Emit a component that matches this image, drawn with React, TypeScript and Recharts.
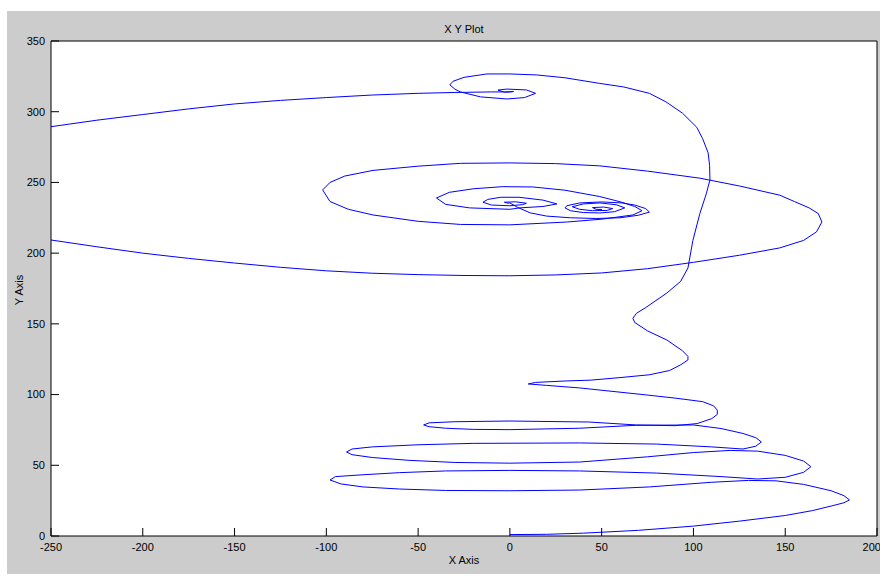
import { LineChart, Line, XAxis, YAxis, CartesianGrid } from "recharts";

const xTicks = [-250, -200, -150, -100, -50, 0, 50, 100, 150, 200];
const yTicks = [0, 50, 100, 150, 200, 250, 300, 350];

// trajectory from the origin, zig-zagging up into the top focus
const risingPath: [number, number][] = [
  [0, 1], [20, 1.2], [40, 2], [70, 4], [100, 7], [125, 10.5], [150, 14.5], [165, 18], [176, 21.5], [182, 23.5], [185, 25.5],
  [182, 28.5], [175, 32], [160, 36.5], [145, 39], [130, 39.3], [110, 38], [76, 34.7], [38, 32.5], [0, 32], [-35, 32.2],
  [-60, 33.2], [-80, 34.7], [-92, 36.8], [-98, 39.6], [-95, 42], [-80, 43.3], [-60, 44.8], [-35, 46], [0, 46.4], [38, 46],
  [80, 44.5], [115, 42], [135, 40.3], [150, 41.5], [160, 45], [164, 49], [160, 53], [150, 57], [135, 60], [120, 60.5],
  [100, 59], [75, 56], [38, 52.3], [0, 51.5], [-30, 52], [-55, 53.5], [-75, 55.5], [-86, 57.5], [-89, 59.4], [-86, 61.5],
  [-75, 63], [-50, 64.5], [-20, 65.5], [38, 65.8], [80, 65], [110, 63], [127, 61.5], [134, 63.5], [137, 66.5], [134, 69.5],
  [127, 72.5], [115, 76], [100, 78.5], [69, 78.3], [38, 76.2], [0, 75.2], [-20, 75.4], [-35, 76.2], [-44, 77.3], [-47, 78.5],
  [-44, 80], [-30, 80.8], [0, 81.3], [43, 80.6], [69, 78.5], [90, 78], [102, 79.5], [110, 83], [113, 86], [113, 89],
  [111, 92], [105, 95], [90, 97.5], [74.6, 99.7], [38, 104.7], [20, 106.5], [10, 107.5], [14, 108.6], [30, 109.6],
  [44, 110.2], [60, 112], [76, 114], [87, 117], [93, 121], [97, 124.5], [97, 127], [94, 131], [85.5, 138.6], [75, 145],
  [68, 151], [67, 154], [69, 157.5], [74, 161.5], [85.5, 171.8], [93, 180], [97, 189.5], [99.7, 209], [103.5, 228],
  [107, 242], [109, 251.8], [108.8, 262], [108, 270.9], [105, 281], [101.8, 289], [94, 299], [85, 307], [76, 313],
  [62, 317.5], [49, 320], [30, 324], [14.7, 326], [0, 326.7], [-12.5, 326.7], [-25, 324.3], [-31, 321.5], [-32.7, 319],
  [-30, 316], [-27, 314], [-16, 310.5], [-1.6, 309], [8, 310], [14, 313], [9, 315.4], [-1.6, 316], [-6.5, 315.3],
  [-3, 313.8], [2, 314.3], [0, 314],
];

const upperLeftPath: [number, number][] = [
  [-250, 289.4], [-225, 294], [-200, 298], [-175, 302], [-150, 305.5], [-125, 308], [-100, 310], [-75, 311.8],
  [-50, 313], [-30, 313.6], [-10, 314], [0, 314],
];

const middlePath: [number, number][] = [
  [-250, 209.3], [-225, 204.5], [-200, 200], [-175, 196.3], [-150, 193], [-125, 190], [-100, 187.5], [-75, 185.8],
  [-50, 184.8], [-25, 184.2], [0, 184], [25, 184.6], [50, 186], [75, 189], [100, 193.5], [125, 198.5], [147, 203.7],
  [160, 209], [167, 215], [170, 222], [168, 228], [163, 232], [155, 236.5], [147, 241], [125, 247.5], [103.5, 253],
  [75, 258], [49, 261.7], [25, 263.3], [0, 263.8], [-27, 263.5], [-50, 261.5], [-74.6, 258.5], [-90, 254.5], [-98, 250],
  [-102, 244.7], [-98, 236.5], [-88, 231], [-74.6, 227], [-50, 222.5], [-27, 220.3], [0, 220], [31, 222], [50, 224],
  [67, 227], [72, 230], [68, 233], [61, 236], [49, 240], [30, 244.5], [12.5, 246.8], [-4, 247], [-20, 245.5], [-33, 243],
  [-40, 239], [-35, 234.5], [-22, 232], [0, 231], [5.4, 232], [18, 233], [25.6, 234.8], [18, 237.5], [5, 239.5],
  [-5, 239.5], [-12, 238], [-14.7, 236], [-10, 234], [0, 233.5], [7, 234.3], [9, 235.3], [3, 236.3], [-3, 236],
  [-1, 235.3], [0, 235.5],
];

const rightFocusPath: [number, number][] = [
  [0, 235.5], [4, 232.5], [11, 228.5], [20, 226.2], [33, 225], [47, 224.5], [60, 225], [70, 226.8], [76, 229],
  [74, 231.5], [68, 234], [61, 235.5], [50, 236.2], [38, 235.5], [31, 233.5], [30, 232], [33, 230], [40, 228.7],
  [49, 228.4], [57, 229.3], [62.6, 232], [58, 234.2], [49, 235.5], [40, 234.8], [34, 232.8], [38, 231], [45, 230],
  [53, 230.2], [56, 231.5], [51, 232.6], [45, 232.2], [47, 231], [50, 230.8], [49, 231],
];

const paths = [risingPath, upperLeftPath, middlePath, rightFocusPath];

const toRows = (pts: [number, number][]) => pts.map(([x, y]) => ({ x, y }));

const font = "'Liberation Sans', Arial, sans-serif";
const tickStyle = { fontSize: 11, fill: "#000", fontFamily: font };

export default function App() {
  return (
    <div
      style={{
        position: "absolute",
        left: 7,
        top: 11,
        width: 873,
        height: 563,
        background: "#cccccc",
        fontFamily: font,
        fontSize: 11,
        color: "#000",
      }}
    >
      <div style={{ position: "absolute", left: 44, width: 826, top: 12, lineHeight: "12px", textAlign: "center" }}>
        X Y Plot
      </div>
      <div style={{ position: "absolute", left: 44, width: 826, top: 543, lineHeight: "12px", textAlign: "center" }}>
        X Axis
      </div>
      <div
        style={{
          position: "absolute",
          left: -18,
          top: 273,
          width: 60,
          height: 12,
          lineHeight: "12px",
          textAlign: "center",
          transform: "rotate(-90deg)",
        }}
      >
        Y Axis
      </div>
      <div style={{ position: "absolute", left: 0, top: 0 }}>
        <LineChart width={873} height={563} margin={{ top: 29, right: 2, bottom: 37, left: 43 }}>
          <CartesianGrid xAxisId="b" yAxisId="l" fill="#fff" stroke="none" />
          <XAxis
            xAxisId="b"
            type="number"
            dataKey="x"
            domain={[-250, 200]}
            ticks={xTicks}
            allowDataOverflow
            height={1}
            tickSize={-8}
            tickMargin={15}
            tick={tickStyle}
            axisLine={{ stroke: "#000" }}
            tickLine={{ stroke: "#000" }}
          />
          <XAxis
            xAxisId="t"
            orientation="top"
            type="number"
            domain={[-250, 200]}
            ticks={xTicks}
            allowDataOverflow
            height={1}
            tickSize={-8}
            tick={false}
            axisLine={{ stroke: "#000" }}
            tickLine={{ stroke: "#000" }}
          />
          <YAxis
            yAxisId="l"
            type="number"
            dataKey="y"
            domain={[0, 350]}
            ticks={yTicks}
            allowDataOverflow
            width={1}
            tickSize={-8}
            tickMargin={14}
            tick={tickStyle}
            axisLine={{ stroke: "#000" }}
            tickLine={{ stroke: "#000" }}
          />
          <YAxis
            yAxisId="r"
            orientation="right"
            type="number"
            domain={[0, 350]}
            ticks={yTicks}
            allowDataOverflow
            width={1}
            tickSize={-8}
            tick={false}
            axisLine={{ stroke: "#000" }}
            tickLine={{ stroke: "#000" }}
          />
          {paths.map((p, i) => (
            <Line
              key={i}
              xAxisId="b"
              yAxisId="l"
              data={toRows(p)}
              dataKey="y"
              type="linear"
              stroke="#0000ff"
              strokeWidth={1}
              dot={false}
              activeDot={false}
              isAnimationActive={false}
            />
          ))}
        </LineChart>
      </div>
    </div>
  );
}
